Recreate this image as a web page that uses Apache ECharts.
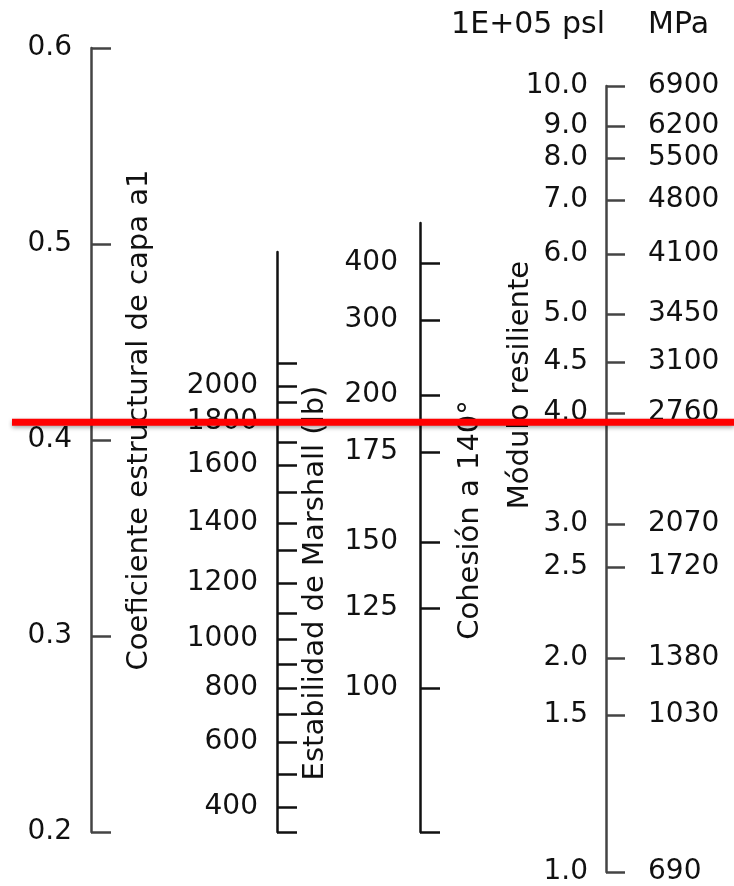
<!DOCTYPE html>
<html>
<head>
<meta charset="utf-8">
<script src="https://cdn.jsdelivr.net/npm/echarts@6/dist/echarts.min.js"></script>
<style>
html,body{margin:0;padding:0;background:#fff;}
#c{width:734px;height:886px;}
</style>
</head>
<body>
<div id="c"></div>
<script>
// ---- Data (all scales expressed against the a1 reference scale) ----
const a1Min = 0.2, a1Max = 0.6, a1Step = 0.1;

// Marshall stability (lb): tick values and their a1-equivalent positions
const marshallTicks = [2100, 2000, 1900, 1800, 1700, 1600, 1500, 1400, 1300, 1200, 1100, 1000, 900, 800, 700, 600, 500, 400, 300];
const marshallA1    = [0.4393, 0.4276, 0.4194, 0.4092, 0.3990, 0.3872, 0.3735, 0.3577, 0.3439, 0.3270, 0.3117, 0.2985, 0.2857, 0.2735, 0.2602, 0.2459, 0.2296, 0.2128, 0.2000];
const marshallLabels = [2000, 1800, 1600, 1400, 1200, 1000, 800, 600, 400];
const marshallRange = [0.2000, 0.4959];

// Cohesion at 140°
const cohesionTicks = [400, 300, 200, 175, 150, 125, 100];
const cohesionA1    = [0.4903, 0.4612, 0.4230, 0.3939, 0.3480, 0.3143, 0.2735];
const cohesionRange = [0.2000, 0.5107];

// Resilient modulus
const modulusPsi = [10.0, 9.0, 8.0, 7.0, 6.0, 5.0, 4.5, 4.0, 3.0, 2.5, 2.0, 1.5, 1.0];
const modulusMPa = [6900, 6200, 5500, 4800, 4100, 3450, 3100, 2760, 2070, 1720, 1380, 1030, 690];
const modulusA1  = [0.5806, 0.5602, 0.5439, 0.5224, 0.4949, 0.4643, 0.4398, 0.4138, 0.3571, 0.3352, 0.2888, 0.2597, 0.1796];
const modulusRange = [0.1796, 0.5806];

// Reading line
const readingA1 = 0.409;

// ---- Layout helpers ----
const H = 886, Y0 = 48, PX_PER_UNIT = 1960;
function py(v){ return Y0 + (a1Max - v) * PX_PER_UNIT; }
function gridFor(left, range){ return {left: left, width: 1, top: py(range[1]), bottom: H - py(range[0]), containLabel: false}; }
function lookup(vals, labels){
  return function(v){
    for (let i = 0; i < vals.length; i++) if (Math.abs(v - vals[i]) < 1e-6) return String(labels[i]);
    return '';
  };
}
const FONT = 'DejaVu Sans';
const TXT = '#111';

function baseAxis(gridIndex, range, color, extra){
  const ax = {
    type: 'value', gridIndex: gridIndex, min: range[0], max: range[1], position: 'left',
    axisLine: {show: true, onZero: false, lineStyle: {color: color, width: 2.5}},
    axisTick: {show: true, inside: true, length: 20, lineStyle: {color: color, width: 2.5}},
    axisLabel: {show: true, margin: 19, fontSize: 28, fontFamily: FONT, color: TXT},
    splitLine: {show: false}
  };
  if (extra) {
    if (extra.tick) Object.assign(ax.axisTick, extra.tick);
    if (extra.label) Object.assign(ax.axisLabel, extra.label);
    if (extra.line) Object.assign(ax.axisLine, extra.line);
    if (extra.other) Object.assign(ax, extra.other);
  }
  return ax;
}

const marshallLabelPos = marshallLabels.map(l => marshallA1[marshallTicks.indexOf(l)]);

const option = {
  animation: false,
  backgroundColor: '#fff',
  grid: [
    gridFor(91, [a1Min, a1Max]),
    gridFor(277, marshallRange),
    gridFor(420, cohesionRange),
    gridFor(606, modulusRange),
    {left: 12, right: 0, top: py(a1Max), bottom: H - py(a1Min)}
  ],
  xAxis: [0,1,2,3,4].map(i => ({type: 'value', gridIndex: i, min: 0, max: 1, show: false})),
  yAxis: [
    baseAxis(0, [a1Min, a1Max], '#444', {
      other: {interval: a1Step},
      label: {formatter: v => v.toFixed(1)}
    }),
    baseAxis(1, marshallRange, '#111', {
      tick: {customValues: marshallA1},
      label: {customValues: marshallLabelPos, formatter: lookup(marshallLabelPos, marshallLabels)}
    }),
    baseAxis(2, cohesionRange, '#111', {
      tick: {customValues: cohesionA1.concat([cohesionRange[0]])},
      label: {customValues: cohesionA1, formatter: lookup(cohesionA1, cohesionTicks), margin: 22}
    }),
    baseAxis(3, modulusRange, '#444', {
      tick: {customValues: modulusA1, length: 19},
      label: {customValues: modulusA1, formatter: lookup(modulusA1, modulusPsi.map(v => v.toFixed(1))), margin: 18}
    }),
    baseAxis(3, modulusRange, '#444', {
      other: {position: 'right'},
      line: {show: false},
      tick: {show: false},
      label: {customValues: modulusA1, formatter: lookup(modulusA1, modulusMPa), margin: 41}
    }),
    {type: 'value', gridIndex: 4, min: a1Min, max: a1Max, show: false}
  ],
  series: [{
    type: 'line', xAxisIndex: 4, yAxisIndex: 5,
    data: [[0, readingA1], [1, readingA1]],
    symbol: 'none', silent: true,
    lineStyle: {color: '#ff0000', width: 7, shadowColor: 'rgba(0,0,0,0.35)', shadowBlur: 4, shadowOffsetY: 2}
  }],
  graphic: [
    {type: 'text', x: 139, y: 420, rotation: Math.PI / 2,
      style: {text: 'Coeficiente estructural de capa a1', fontSize: 29, fontFamily: FONT, fill: TXT, align: 'center', verticalAlign: 'middle', textAlign: 'center', textVerticalAlign: 'middle'}},
    {type: 'text', x: 315, y: 583, rotation: Math.PI / 2,
      style: {text: 'Estabilidad de Marshall (lb)', fontSize: 29, fontFamily: FONT, fill: TXT, align: 'center', verticalAlign: 'middle', textAlign: 'center', textVerticalAlign: 'middle'}},
    {type: 'text', x: 470, y: 520, rotation: Math.PI / 2,
      style: {text: 'Cohesión a 140°', fontSize: 29, fontFamily: FONT, fill: TXT, align: 'center', verticalAlign: 'middle', textAlign: 'center', textVerticalAlign: 'middle'}},
    {type: 'text', x: 520, y: 385, rotation: Math.PI / 2,
      style: {text: 'Módulo resiliente', fontSize: 29, fontFamily: FONT, fill: TXT, align: 'center', verticalAlign: 'middle', textAlign: 'center', textVerticalAlign: 'middle'}},
    {type: 'text', x: 605, y: 25,
      style: {text: '1E+05 psl', fontSize: 30, fontFamily: FONT, fill: TXT, align: 'right', verticalAlign: 'middle', textAlign: 'right', textVerticalAlign: 'middle'}},
    {type: 'text', x: 648, y: 25,
      style: {text: 'MPa', fontSize: 30, fontFamily: FONT, fill: TXT, align: 'left', verticalAlign: 'middle', textAlign: 'left', textVerticalAlign: 'middle'}}
  ]
};

const chart = echarts.init(document.getElementById('c'), null, {renderer: 'canvas'});
chart.setOption(option);
</script>
</body>
</html>
